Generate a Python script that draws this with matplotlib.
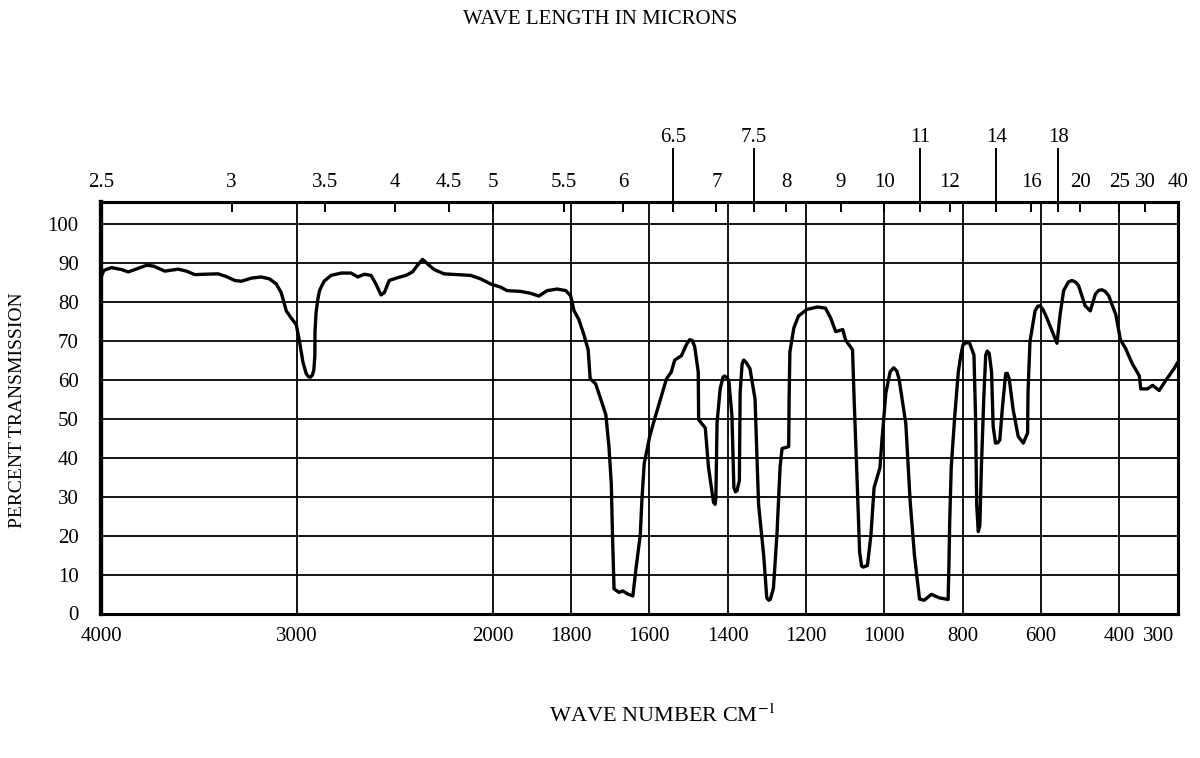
import numpy as np
import matplotlib
matplotlib.use('agg')
import matplotlib.pyplot as plt

plt.rcParams['font.family'] = ['Liberation Serif', 'DejaVu Serif']
plt.rcParams['mathtext.fontset'] = 'stix'

# spectrum: wave number (cm-1) and percent transmission
wavenumber = [3998, 3985, 3946, 3895, 3861, 3827, 3767, 3733, 3674, 3606,
              3564, 3521, 3470, 3402, 3360, 3317, 3283, 3232, 3182, 3139,
              3105, 3080, 3063, 3054, 3029, 3003, 2986, 2969, 2952, 2940,
              2930, 2920, 2913, 2908, 2907, 2902, 2893, 2884, 2870, 2859,
              2825, 2774, 2723, 2689, 2655, 2621, 2596, 2570, 2553, 2528,
              2486, 2443, 2409, 2384, 2358, 2333, 2299, 2248, 2180, 2112,
              2061, 2010, 1980, 1963, 1929, 1903, 1882, 1861, 1835, 1813,
              1801, 1792, 1780, 1767, 1756, 1751, 1737, 1724, 1711, 1703,
              1697, 1694, 1690, 1677, 1668, 1655, 1642, 1634, 1623, 1619,
              1613, 1599, 1587, 1574, 1556, 1544, 1535, 1518, 1505, 1497,
              1490, 1484, 1475, 1474, 1457, 1449, 1436, 1432, 1430, 1427,
              1419, 1412, 1408, 1403, 1397, 1389, 1384, 1380, 1376, 1370,
              1368, 1363, 1359, 1352, 1343, 1330, 1321, 1308, 1300, 1295,
              1291, 1283, 1274, 1266, 1261, 1244, 1243, 1241, 1231, 1219,
              1197, 1171, 1150, 1137, 1124, 1106, 1099, 1081, 1077, 1069,
              1063, 1058, 1054, 1043, 1034, 1026, 1011, 1006, 996, 985,
              976, 968, 962, 945, 934, 923, 910, 898, 880, 859,
              837, 835, 833, 829, 820, 811, 805, 799, 790, 782,
              771, 767, 764, 760, 756, 752, 746, 741, 737, 732,
              726, 722, 716, 710, 705, 698, 690, 686, 681, 671,
              658, 645, 634, 633, 628, 615, 608, 602, 594, 585,
              568, 559, 551, 542, 530, 521, 512, 504, 487, 474,
              461, 452, 444, 436, 427, 409, 397, 384, 367, 349,
              345, 328, 315, 298, 281, 260, 250]
transmission = [86.5, 88.0, 88.7, 88.2, 87.6, 88.2, 89.3, 89.1, 87.8, 88.3,
                87.8, 86.9, 87.0, 87.1, 86.4, 85.4, 85.2, 86.0, 86.3, 85.8,
                84.5, 82.3, 79.3, 77.6, 75.8, 74.1, 69.7, 64.5, 61.5, 60.7,
                60.6, 61.2, 62.5, 66.0, 72.3, 77.0, 80.5, 82.8, 84.3, 85.3,
                86.7, 87.3, 87.3, 86.3, 87.0, 86.7, 84.5, 81.7, 82.3, 85.4,
                86.1, 86.7, 87.6, 89.3, 90.8, 89.7, 88.2, 87.1, 86.9, 86.7,
                85.8, 84.5, 83.7, 82.8, 82.6, 82.1, 81.4, 82.8, 83.2, 82.8,
                81.5, 77.6, 75.4, 71.5, 67.6, 60.2, 58.9, 55.0, 51.0, 42.8,
                33.2, 20.2, 6.3, 5.4, 5.8, 5.0, 4.5, 11.5, 20.2, 28.9,
                38.4, 45.4, 49.7, 54.1, 60.2, 61.9, 65.0, 66.1, 69.0, 70.2,
                70.0, 68.4, 61.9, 49.7, 47.6, 37.6, 28.5, 28.0, 29.7, 48.9,
                57.6, 60.6, 60.9, 60.6, 59.8, 50.7, 32.3, 31.2, 31.5, 34.1,
                56.7, 64.0, 65.0, 64.3, 62.8, 55.0, 28.0, 15.0, 4.0, 3.4,
                3.6, 6.5, 20.4, 37.6, 42.3, 42.8, 55.0, 67.1, 73.2, 76.3,
                78.0, 78.6, 78.3, 75.8, 72.3, 72.8, 70.2, 67.6, 55.0, 33.2,
                15.8, 12.2, 11.9, 12.3, 20.2, 32.3, 37.4, 44.3, 56.5, 62.0,
                63.0, 62.2, 60.0, 48.7, 28.9, 15.0, 3.7, 3.4, 4.9, 4.0,
                3.6, 11.9, 23.2, 37.6, 50.7, 61.9, 66.0, 68.9, 69.5, 69.3,
                66.3, 50.7, 28.0, 21.0, 22.5, 37.6, 55.0, 66.3, 67.3, 66.7,
                61.9, 48.0, 43.7, 43.8, 44.5, 53.2, 61.5, 61.6, 60.2, 52.3,
                45.4, 43.7, 46.3, 56.7, 69.7, 77.6, 78.8, 78.9, 77.8, 75.8,
                71.5, 69.3, 76.7, 82.8, 85.0, 85.4, 85.0, 84.1, 78.9, 77.6,
                81.9, 82.9, 83.0, 82.6, 81.5, 76.7, 70.2, 68.0, 64.1, 61.0,
                57.6, 57.6, 58.5, 57.2, 59.8, 62.8, 64.5]

grid_wn = [4000, 3000, 2000, 1800, 1600, 1400, 1200, 1000, 800, 600, 400]
extra_wn = [300]
y_ticks = list(range(0, 101, 10))
micron_short = [2.5, 3, 3.5, 4, 4.5, 5, 5.5, 6, 7, 8, 9, 10, 12, 16, 20, 25, 30, 40]
micron_long = [6.5, 7.5, 11, 14, 18]


# chart paper: 4000-2000 at half the scale of 2000-250
def fwd(w):
    w = np.asarray(w, dtype=float)
    return np.where(w >= 2000, w / 2 + 1000, w)


def inv(p):
    p = np.asarray(p, dtype=float)
    return np.where(p >= 2000, (p - 1000) * 2, p)


fig = plt.figure(figsize=(12, 7.58), dpi=100)
ax = fig.add_axes([101 / 1200, 1 - 613.5 / 758, 1077 / 1200, 411.8 / 758])
ax.set_xscale('function', functions=(fwd, inv))
ax.set_xlim(4000, 250)
ax.set_ylim(0, 105.6)

ax.set_xticks(grid_wn)
ax.set_xticklabels([str(w) for w in grid_wn])
ax.set_xticks(extra_wn, minor=True)
ax.set_xticklabels([str(w) for w in extra_wn], minor=True)
ax.set_yticks(y_ticks)
ax.set_yticklabels([str(v) for v in y_ticks])
ax.tick_params(axis='x', which='both', length=0, pad=10, labelsize=15)
ax.tick_params(axis='y', length=0, pad=16, labelsize=15)
ax.grid(True, which='major', color='black', linewidth=1.3)
ax.set_axisbelow(True)

ax.plot(wavenumber, transmission, color='black', linewidth=2.4,
        solid_joinstyle='round', solid_capstyle='round')

# wavelength scale on top
ax2 = ax.twiny()
ax2.set_xscale('function', functions=(fwd, inv))
ax2.set_xlim(4000, 250)
ax2.xaxis.remove_overlapping_locs = False
ax2.set_xticks([1e4 / m for m in micron_short + micron_long])
ax2.set_xticklabels([('%g' % m) for m in micron_short] + [''] * len(micron_long))
ax2.set_xticks([1e4 / m for m in micron_long], minor=True)
ax2.set_xticklabels([('%g' % m) for m in micron_long], minor=True)
ax2.tick_params(axis='x', which='major', direction='in', length=7, width=1.4,
                pad=7, labelsize=15)
ax2.tick_params(axis='x', which='minor', direction='out', length=39, width=1.4,
                pad=0.5, labelsize=15)

for a in (ax, ax2):
    for s in a.spines.values():
        s.set_linewidth(2.2)
    a.spines['left'].set_linewidth(3)

fig.text(600 / 1200, 1 - 20 / 758, 'WAVE LENGTH IN MICRONS', ha='center',
         va='center', fontsize=15)
fig.text(662 / 1200, 1 - 716 / 758, 'WAVE NUMBER CM$^{-1}$', ha='center',
         va='center', fontsize=16)
fig.text(18 / 1200, 1 - 410 / 758, 'PERCENT TRANSMISSION', ha='center',
         va='center', rotation=90, fontsize=14)

fig.savefig('out.png', dpi=100)
